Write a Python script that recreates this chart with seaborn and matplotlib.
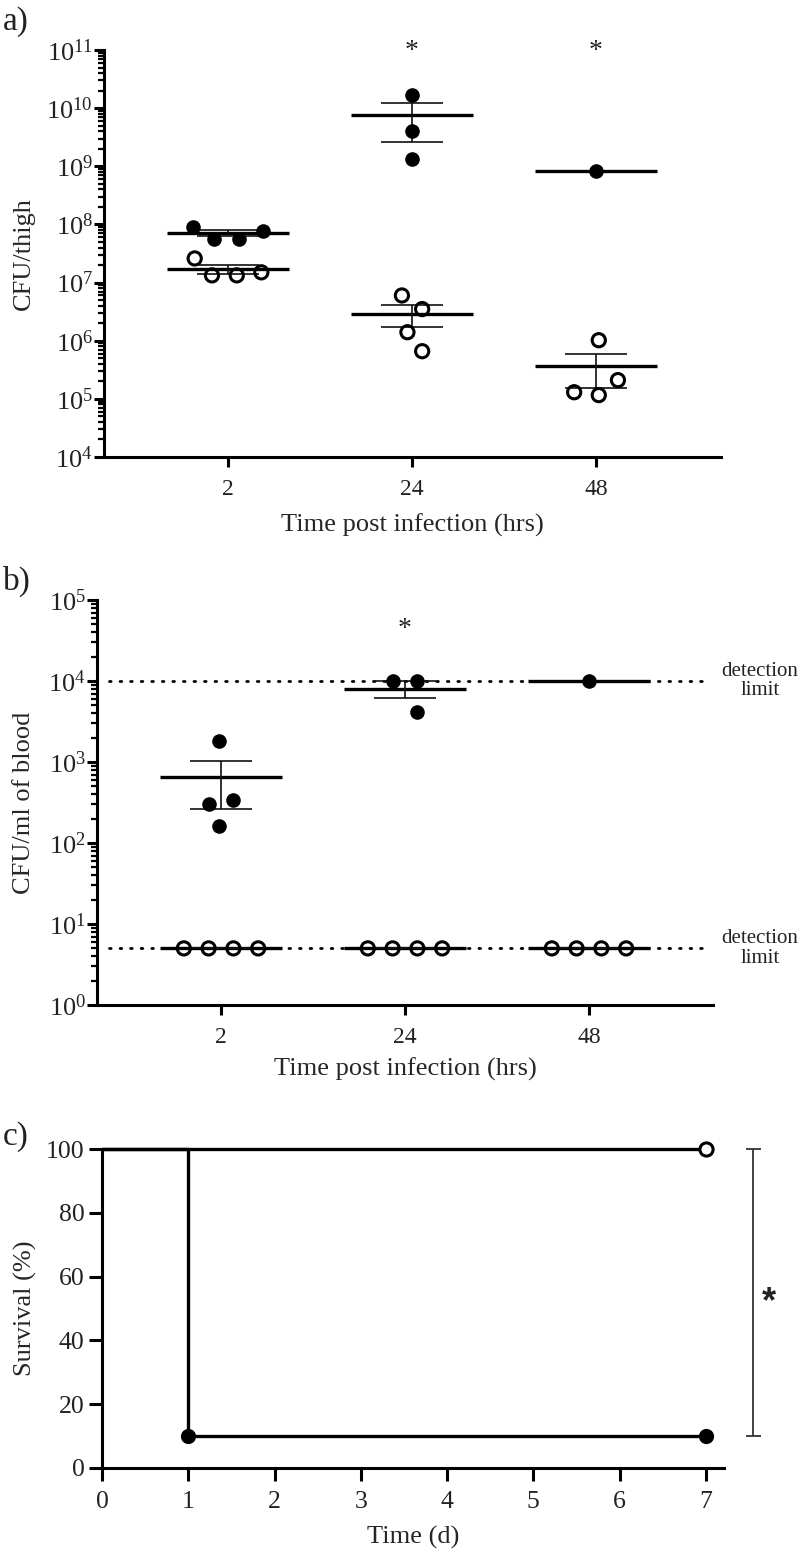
import numpy as np
import pandas as pd
import matplotlib
matplotlib.use("Agg")
import matplotlib.pyplot as plt
import matplotlib.ticker as mticker
import seaborn as sns

# ---------------- data ----------------
times = ["2", "24", "48"]

# panel a: CFU/thigh (filled = one group, open = other group)
thigh_filled_2 = [7.6e7, 5.7e7, 5.7e7, 9.2e7]
thigh_filled_24 = [1.7e10, 4.1e9, 1.35e9]
thigh_filled_48 = [8.3e8]
thigh_open_2 = [2.6e7, 1.33e7, 1.5e7, 1.33e7]
thigh_open_24 = [6.0e6, 3.5e6, 1.4e6, 6.6e5]
thigh_open_48 = [1.02e6, 2.1e5, 1.16e5, 1.3e5]

# panel b: CFU/ml of blood
blood_filled_2 = [1800, 340, 302, 163]
blood_filled_24 = [1.0e4, 1.0e4, 4200]
blood_filled_48 = [1.0e4]
blood_open_2 = [5, 5, 5, 5]
blood_open_24 = [5, 5, 5, 5]
blood_open_48 = [5, 5, 5, 5]
detection_limits = [1.0e4, 5]

# panel c: survival
surv_open_days = [0, 7]
surv_open_pct = [100, 100]
surv_filled_days = [0, 1, 7]
surv_filled_pct = [100, 10, 10]
mark_open_days = [7]
mark_open_pct = [100]
mark_filled_days = [1, 7]
mark_filled_pct = [10, 10]

# ---------------- style ----------------
sns.set_style("ticks")
SERIF = ["Liberation Serif", "DejaVu Serif"]
plt.rcParams["font.family"] = SERIF
plt.rcParams["mathtext.fontset"] = "custom"
plt.rcParams["mathtext.rm"] = "Liberation Serif"
plt.rcParams["mathtext.it"] = "Liberation Serif:italic"
plt.rcParams["mathtext.default"] = "regular"
plt.rcParams["axes.linewidth"] = 2.2
plt.rcParams["axes.edgecolor"] = "black"
plt.rcParams["text.color"] = "#222222"
plt.rcParams["xtick.color"] = "black"
plt.rcParams["ytick.color"] = "black"
plt.rcParams["xtick.labelcolor"] = "#222222"
plt.rcParams["ytick.labelcolor"] = "#222222"

W, H = 800, 1554
fig = plt.figure(figsize=(W / 100, H / 100), dpi=100)


def axes_px(left, top, right, bottom):
    return fig.add_axes([left / W, 1 - bottom / H, (right - left) / W, (bottom - top) / H])


def frame(groups):
    rows = []
    for t, vals in zip(times, groups):
        for v in vals:
            rows.append({"time": t, "val": v})
    return pd.DataFrame(rows)


pending = []  # swarms whose positions are computed by seaborn at draw time


def swarm(ax, df, filled):
    # seaborn beeswarm with a wider collision size (GraphPad-like spread)
    n0 = len(ax.collections)
    sns.swarmplot(data=df, x="time", y="val", order=times, color="black",
                  size=17, linewidth=0, alpha=0, ax=ax)
    pending.append((ax, ax.collections[n0:], filled))


def finish_swarms():
    fig.canvas.draw()
    for ax, colls, filled in pending:
        for c in colls:
            offs = np.asarray(c.get_offsets(), dtype=float)
            c.remove()
            if len(offs) == 0:
                continue
            # centre each category's spread on its tick, as GraphPad does
            centre = np.round(offs[:, 0].mean())
            offs[:, 0] += centre - (offs[:, 0].min() + offs[:, 0].max()) / 2
            if filled:
                ax.scatter(offs[:, 0], offs[:, 1], s=10.5 ** 2, color="black",
                           linewidths=0, zorder=5, clip_on=False)
            else:
                ax.scatter(offs[:, 0], offs[:, 1], s=9.5 ** 2, facecolors="none",
                           edgecolors="black", linewidths=2.2, zorder=5, clip_on=False)


def mean_sem(ax, df, half=0.33, cap=0.17):
    for i, t in enumerate(times):
        v = df.loc[df.time == t, "val"].to_numpy(dtype=float)
        m = v.mean()
        ax.hlines(m, i - half, i + half, color="black", lw=2.4, zorder=4)
        if len(v) > 1:
            s = v.std(ddof=1) / np.sqrt(len(v))
            ax.hlines([m - s, m + s], i - cap, i + cap, color="#111111", lw=1.2, zorder=4)
            ax.vlines(i, m - s, m + s, color="#111111", lw=1.2, zorder=4)


def style_log_axis(ax, lo, hi, ylabel):
    ax.set_yscale("log")
    ax.set_ylim(lo, hi)
    ax.yaxis.set_major_locator(mticker.LogLocator(base=10, numticks=100))
    ax.yaxis.set_major_formatter(mticker.LogFormatterMathtext())
    ax.yaxis.set_minor_locator(mticker.LogLocator(base=10, subs=np.arange(2, 10), numticks=100))
    ax.yaxis.set_minor_formatter(mticker.NullFormatter())
    ax.tick_params(axis="y", which="major", length=7, width=2.2, labelsize=19, pad=1)
    ax.tick_params(axis="y", which="minor", length=4, width=1.6)
    ax.tick_params(axis="x", which="major", length=7, width=2.2, labelsize=17, pad=9)
    ax.set_xlabel("Time post infection (hrs)", fontsize=19)
    ax.set_ylabel(ylabel, fontsize=19)
    sns.despine(ax=ax)


# ---------------- panel a ----------------
axa = axes_px(104, 50, 721, 457)
axa.set_yscale("log")
dfa_f = frame([thigh_filled_2, thigh_filled_24, thigh_filled_48])
dfa_o = frame([thigh_open_2, thigh_open_24, thigh_open_48])
mean_sem(axa, dfa_f)
mean_sem(axa, dfa_o)
swarm(axa, dfa_f, True)
swarm(axa, dfa_o, False)
style_log_axis(axa, 1e4, 1e11, "CFU/thigh")
axa.set_xlim(-0.674, 2.679)
axa.set_xticks(range(len(times)))
axa.set_xticklabels(times)
axa.xaxis.set_label_coords(0.5, -0.138)
axa.yaxis.set_label_coords(-0.112, 0.5)
for i in (1, 2):
    axa.text(i, 7.2e10, "*", ha="center", va="baseline", fontsize=20, clip_on=False)

# ---------------- panel b ----------------
axb = axes_px(97, 600, 713, 1005)
axb.set_yscale("log")
for lim in detection_limits:
    axb.axhline(lim, xmin=0.02, xmax=0.982, color="black", lw=2.0,
                linestyle=(0, (0.6, 3.2)), dash_capstyle="round", zorder=2)
dfb_f = frame([blood_filled_2, blood_filled_24, blood_filled_48])
dfb_o = frame([blood_open_2, blood_open_24, blood_open_48])
mean_sem(axb, dfb_f)
mean_sem(axb, dfb_o)
swarm(axb, dfb_f, True)
swarm(axb, dfb_o, False)
style_log_axis(axb, 1, 1e5, "CFU/ml of blood")
axb.set_xlim(-0.674, 2.674)
axb.set_xticks(range(len(times)))
axb.set_xticklabels(times)
axb.xaxis.set_label_coords(0.5, -0.13)
axb.yaxis.set_label_coords(-0.10, 0.5)
axb.text(1, 3.6e4, "*", ha="center", va="baseline", fontsize=20, clip_on=False)
for lim in detection_limits:
    axb.text(2.93, lim, "detection\nlimit", ha="center", va="center", fontsize=15,
             linespacing=1.05, clip_on=False)

# ---------------- panel c ----------------
axc = axes_px(102, 1149, 724, 1468)
sns.lineplot(x=surv_open_days, y=surv_open_pct, estimator=None, drawstyle="steps-post",
             color="black", lw=2.4, ax=axc, clip_on=False, zorder=3)
sns.lineplot(x=surv_filled_days, y=surv_filled_pct, estimator=None, drawstyle="steps-post",
             color="black", lw=2.4, ax=axc, clip_on=False, zorder=3)
sns.scatterplot(x=mark_filled_days, y=mark_filled_pct, color="black", s=120,
                linewidth=0, ax=axc, clip_on=False, zorder=5)
sns.scatterplot(x=mark_open_days, y=mark_open_pct, color="white", edgecolor="black",
                s=90, linewidth=2.2, ax=axc, clip_on=False, zorder=5)
axc.set_xlim(0, 7.21)
axc.set_ylim(0, 100)
axc.set_xticks(range(0, 8))
axc.set_yticks(range(0, 101, 20))
axc.tick_params(axis="both", length=9.5, width=2.2, labelsize=18.5)
axc.tick_params(axis="x", pad=7)
axc.tick_params(axis="y", pad=3)
axc.set_xlabel("Time (d)", fontsize=19)
axc.set_ylabel("Survival (%)", fontsize=19)
axc.xaxis.set_label_coords(0.5, -0.18)
axc.yaxis.set_label_coords(-0.105, 0.5)
sns.despine(ax=axc)
bx = 7.55
axc.vlines(bx, surv_filled_pct[-1], surv_open_pct[-1], color="#333333", lw=1.3, clip_on=False)
axc.hlines([surv_filled_pct[-1], surv_open_pct[-1]], bx - 0.09, bx + 0.09, color="#333333",
           lw=1.3, clip_on=False)
axc.text(7.73, 49, "*", ha="center", va="baseline", fontsize=26, fontweight="bold",
         family=["Liberation Sans", "DejaVu Sans"], clip_on=False)

# ---------------- panel letters ----------------
fig.text(3 / W, 1 - 22 / H, "a)", fontsize=24, ha="left", va="center")
fig.text(3 / W, 1 - 581 / H, "b)", fontsize=24, ha="left", va="center")
fig.text(3 / W, 1 - 1137 / H, "c)", fontsize=24, ha="left", va="center")

finish_swarms()
fig.savefig("out.png", dpi=100, facecolor="white")
